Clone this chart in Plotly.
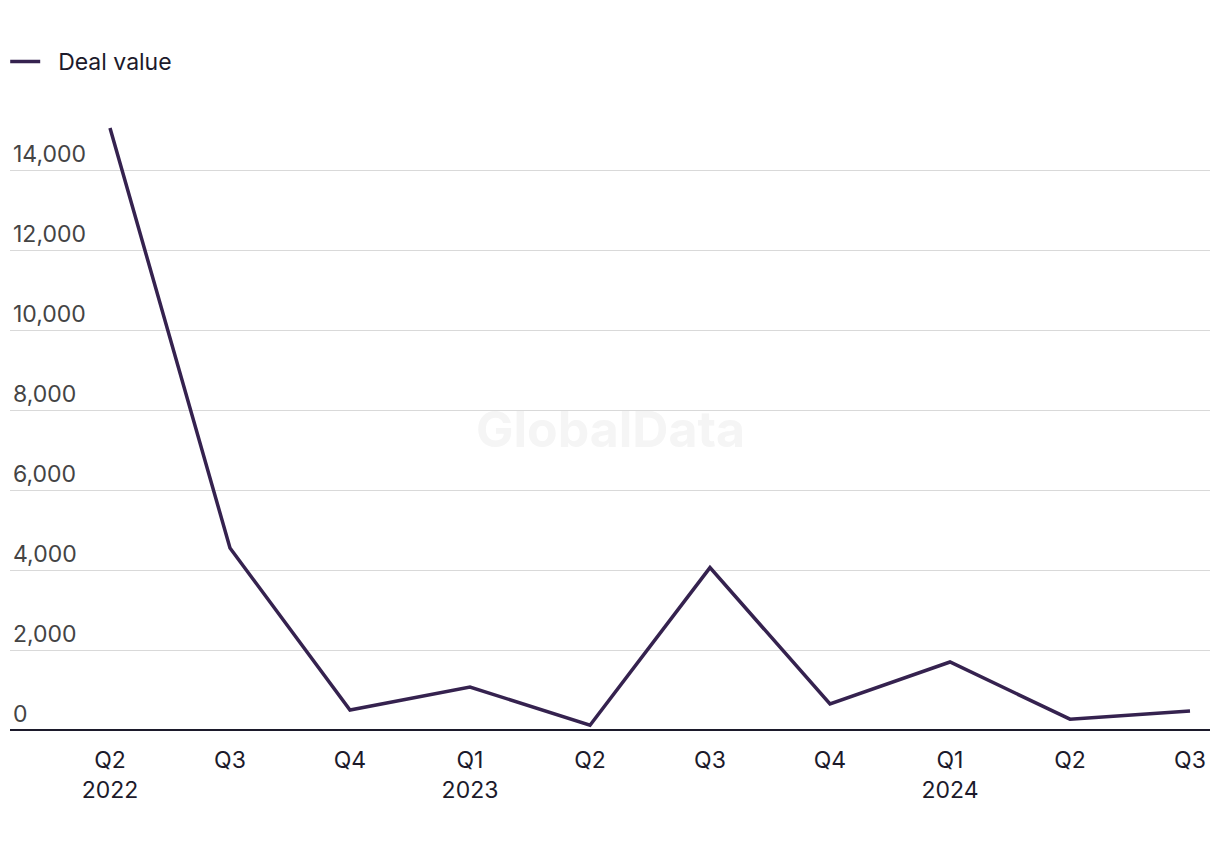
import plotly.graph_objects as go

quarters = ["Q2<br>2022", "Q3", "Q4", "Q1<br>2023", "Q2", "Q3", "Q4", "Q1<br>2024", "Q2", "Q3"]
deal_value = [15050, 4550, 500, 1075, 120, 4060, 650, 1700, 270, 475]
y_ticks = [0, 2000, 4000, 6000, 8000, 10000, 12000, 14000]
y_tick_text = ["0", "2,000", "4,000", "6,000", "8,000", "10,000", "12,000", "14,000"]

x_idx = list(range(len(quarters)))

fig = go.Figure()
fig.add_trace(go.Scatter(
    x=x_idx, y=deal_value, mode="lines", name="\u00a0\u00a0Deal value",
    line=dict(color="#35224f", width=3.5),
))

font_family = "Inter, Liberation Sans, sans-serif"
fig.update_layout(
    width=1212, height=842,
    paper_bgcolor="white", plot_bgcolor="white",
    margin=dict(l=2, r=10, t=82, b=120, autoexpand=False),
    font=dict(family=font_family, size=23, color="#1c1a2b"),
    showlegend=True,
    legend=dict(orientation="h", x=-0.004, y=0.962, xref="paper", yref="container",
                xanchor="left", yanchor="top", font=dict(size=23),
                itemwidth=30, bgcolor="rgba(0,0,0,0)"),
    xaxis=dict(
        range=[-0.8333, 9.1667], tickmode="array", tickvals=x_idx, ticktext=quarters,
        showgrid=False, zeroline=False, showline=False, ticks="",
        tickfont=dict(size=23), fixedrange=True, automargin=False,
        ticklabelstandoff=14,
    ),
    yaxis=dict(
        range=[0, 16000], tickmode="array", tickvals=y_ticks, ticktext=y_tick_text,
        showgrid=True, gridcolor="#d9d9d9", gridwidth=1.3,
        zeroline=True, zerolinecolor="#1c1a2b", zerolinewidth=2,
        showline=False, ticks="", ticklabelposition="inside top",
        tickfont=dict(size=23), fixedrange=True, automargin=False,
    ),
    annotations=[dict(
        text="<b>GlobalData</b>", x=0.5, y=0.47, xref="paper", yref="paper",
        showarrow=False, font=dict(size=50, color="#f5f5f5", family=font_family),
    )],
)

fig.write_html("out.html")
